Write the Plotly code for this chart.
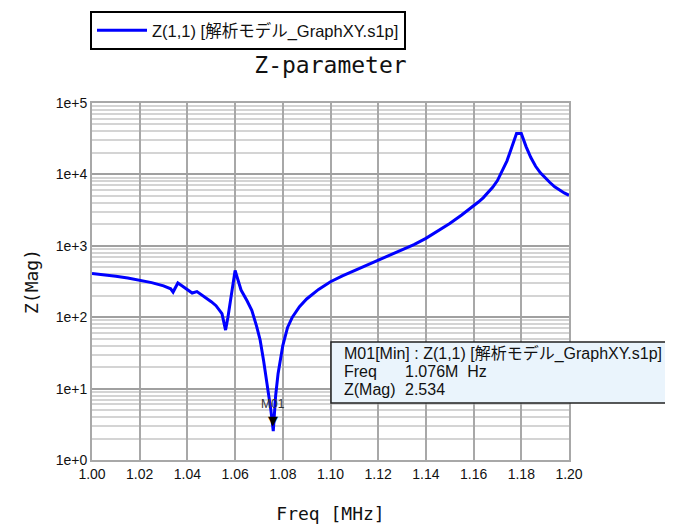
import plotly.graph_objects as go
import numpy as np

# ---- data ----
freq_mhz = [1.000, 1.005, 1.010, 1.015, 1.020, 1.025, 1.030, 1.033, 1.034, 1.036,
            1.038, 1.040, 1.042, 1.044, 1.046, 1.048, 1.050, 1.052, 1.0545, 1.056,
            1.057, 1.060, 1.0625, 1.065, 1.067, 1.069, 1.0705, 1.072, 1.074, 1.075,
            1.076, 1.077, 1.078, 1.080, 1.082, 1.084, 1.087, 1.090, 1.095, 1.100,
            1.105, 1.110, 1.115, 1.120, 1.125, 1.130, 1.135, 1.140, 1.145, 1.150,
            1.155, 1.160, 1.162, 1.164, 1.166, 1.168, 1.170, 1.172, 1.174, 1.176,
            1.178, 1.180, 1.182, 1.184, 1.186, 1.188, 1.190, 1.192, 1.194, 1.196,
            1.198, 1.200]
z_mag = [410, 395, 375, 355, 330, 305, 275, 250, 225, 302,
         272, 245, 218, 228, 205, 185, 165, 145, 112, 66,
         100, 450, 240, 170, 125, 75, 48, 24, 8.5, 5.0,
         2.534, 8.0, 16, 40, 72, 100, 140, 180, 245, 314,
         380, 450, 530, 625, 735, 870, 1040, 1270, 1600, 2050,
         2700, 3600, 4100, 4700, 5500, 6600, 8200, 11000, 15500, 24000,
         37500, 37500, 24500, 17200, 13000, 10500, 8900, 7700, 6700, 6000,
         5500, 5100]

series_name = "Z(1,1) [解析モデル_GraphXY.s1p]"
marker_name = "M01"
marker_kind = "Min"
marker_freq = 1.076
marker_mag = 2.534

y_tick_vals = [1, 10, 100, 1000, 10000, 100000]
y_tick_text = ["1e+0", "1e+1", "1e+2", "1e+3", "1e+4", "1e+5"]
x_tick_vals = [1.00, 1.02, 1.04, 1.06, 1.08, 1.10, 1.12, 1.14, 1.16, 1.18, 1.20]
x_tick_text = ["1.00", "1.02", "1.04", "1.06", "1.08", "1.10", "1.12", "1.14", "1.16", "1.18", "1.20"]

SANS = "Liberation Sans, Noto Sans CJK JP, sans-serif"
MONO = "DejaVu Sans Mono, monospace"

# page has an 8px body margin, so the figure is 8px smaller than the window
W, H = 665, 517
L, T = 84, 95
PW, PH = 477, 357


def px_x(px):  # reference-pixel x -> paper fraction
    return (px - 8 - L) / PW


def px_y(py):  # reference-pixel y -> paper fraction
    return (T + PH - (py - 8)) / PH


fig = go.Figure()
fig.add_trace(go.Scatter(
    x=freq_mhz, y=z_mag, mode="lines", name=series_name,
    line=dict(color="#0000ff", width=3),
    showlegend=True,
))

fig.update_layout(
    width=W, height=H,
    margin=dict(l=L, r=W - L - PW, t=T, b=H - T - PH, autoexpand=False),
    paper_bgcolor="white", plot_bgcolor="white",
    title=dict(text="Z-parameter", x=0.5, xref="paper", y=1 - (65 - 8) / H, yanchor="middle",
               font=dict(family=MONO, size=23, color="#111")),
    showlegend=True,
    legend=dict(x=px_x(90), y=px_y(11), xanchor="left", yanchor="top",
                bordercolor="#000", borderwidth=2, bgcolor="white",
                font=dict(family=SANS, size=16.5, color="#111"),
                itemwidth=50, tracegroupgap=0),
    xaxis=dict(range=[1.0, 1.2], tickvals=x_tick_vals, ticktext=x_tick_text,
               showgrid=True, gridcolor="#a8a8a8", gridwidth=2,
               showline=True, linecolor="#a8a8a8", linewidth=2, mirror=True,
               ticks="", zeroline=False, automargin=False,
               tickfont=dict(family=SANS, size=14, color="#111"),
               title=dict(text="Freq [MHz]", standoff=27,
                          font=dict(family=MONO, size=18, color="#111"))),
    yaxis=dict(type="log", range=[0, 5], tickvals=y_tick_vals, ticktext=y_tick_text,
               showgrid=True, gridcolor="#a0a0a0", gridwidth=2,
               showline=True, linecolor="#a8a8a8", linewidth=2, mirror=True,
               ticks="", zeroline=False, automargin=False,
               minor=dict(dtick="D1", showgrid=True, gridcolor="#d4d4d4", gridwidth=2, ticks=""),
               tickfont=dict(family=SANS, size=14, color="#111"),
               title=dict(text="Z(Mag)", standoff=12,
                          font=dict(family=MONO, size=18, color="#111"))),
)

# marker triangle and label
fig.add_annotation(x=marker_freq, y=np.log10(marker_mag), xref="x", yref="y",
                   text="▼", showarrow=False, yanchor="bottom", yshift=1,
                   font=dict(family="DejaVu Sans", size=13, color="#000"))
fig.add_annotation(x=marker_freq, y=np.log10(marker_mag), xref="x", yref="y",
                   text=marker_name, showarrow=False, yanchor="bottom", yshift=18,
                   font=dict(family=SANS, size=12, color="#333"))

# marker readout box
fig.add_shape(type="rect", xref="paper", yref="paper",
              x0=px_x(331), x1=px_x(670), y0=px_y(403), y1=px_y(342),
              line=dict(color="#222", width=1.5), fillcolor="#eaf4fc", layer="above")
nb = "\u00a0"
box_font = dict(family=SANS, size=16, color="#111")
box_lines = [
    (342, 353, f"{marker_name}[{marker_kind}]{nb}:{nb}{series_name}"),
    (342, 371, "Freq"),
    (403, 371, f"{marker_freq:.3f}M{nb}{nb}Hz"),
    (342, 389, "Z(Mag)"),
    (403, 389, f"{marker_mag:.3f}"),
]
for bx, by, txt in box_lines:
    fig.add_annotation(x=px_x(bx), y=px_y(by), xref="paper", yref="paper",
                       text=txt, showarrow=False, xanchor="left", yanchor="middle",
                       align="left", font=box_font)

fig.write_html("out.html")
